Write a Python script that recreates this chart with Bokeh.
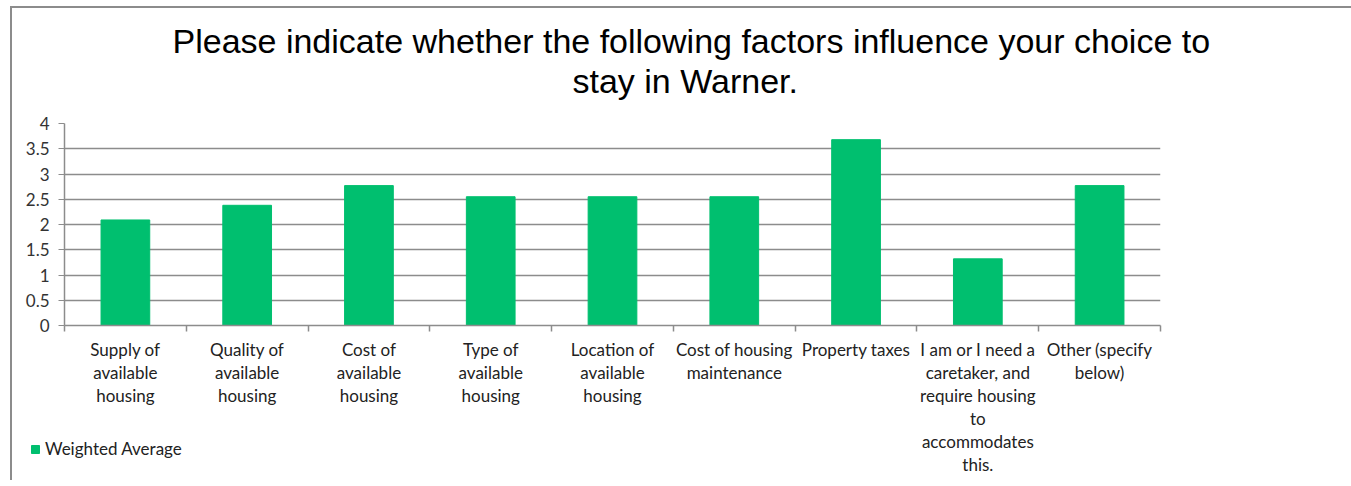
from bokeh.plotting import figure
from bokeh.models import Range1d, FixedTicker, Legend, LegendItem, ColumnDataSource, NumeralTickFormatter, Title
from bokeh.embed import file_html
from bokeh.resources import INLINE

title_lines = ["Please indicate whether the following factors influence your choice to",
               "stay in Warner."]
categories = [
    "Supply of\navailable\nhousing",
    "Quality of\navailable\nhousing",
    "Cost of\navailable\nhousing",
    "Type of\navailable\nhousing",
    "Location of\navailable\nhousing",
    "Cost of housing\nmaintenance",
    "Property taxes",
    "I am or I need a\ncaretaker, and\nrequire housing\nto\naccommodates\nthis.",
    "Other (specify\nbelow)",
]
values = [2.09, 2.38, 2.77, 2.55, 2.55, 2.55, 3.68, 1.32, 2.77]
y_ticks = [0, 0.5, 1, 1.5, 2, 2.5, 3, 3.5, 4]
series_name = "Weighted Average"

GREEN = "#00BF6F"
GRID = "#8c8c8c"
LABEL_FONT = "Lato"

n = len(categories)
positions = [i + 0.5 for i in range(n)]
boundaries = list(range(n + 1))

src = ColumnDataSource(dict(x=positions, top=values))

p = figure(frame_width=1096, frame_height=202, title=None,
           output_backend="svg", toolbar_location=None,
           x_range=Range1d(0, n), y_range=Range1d(0, 4),
           min_border_left=52, min_border_top=115, min_border_right=180, min_border_bottom=155)
p.styles = {"margin-left": "10px", "margin-top": "6px",
            "border-left": "2px solid #8c8c8c", "border-top": "2px solid #8c8c8c"}
p.outline_line_color = None
p.background_fill_color = "white"

r = p.vbar(x="x", top="top", width=0.4, bottom=0, source=src,
           fill_color=GREEN, line_color=GREEN)

# title: two centred lines (second line added first => closest to the plot)
title_offsets = [108, 508]
title_standoffs = [-46, 47]
for line, off, so in reversed(list(zip(title_lines, title_offsets, title_standoffs))):
    p.add_layout(Title(text=line, align="left", offset=off,
                       text_font="Liberation Sans", text_font_size="34px",
                       text_font_style="normal", text_color="black",
                       standoff=so), "above")

# axes
p.xgrid.grid_line_color = None
p.ygrid.ticker = FixedTicker(ticks=y_ticks)
p.ygrid.grid_line_color = GRID
p.ygrid.grid_line_width = 1.5

p.yaxis.ticker = FixedTicker(ticks=y_ticks)
p.yaxis.formatter = NumeralTickFormatter(format="0.[0]")
p.yaxis.axis_line_color = GRID
p.yaxis.axis_line_width = 1.5
p.yaxis.major_tick_line_color = GRID
p.yaxis.major_tick_out = 6
p.yaxis.major_tick_in = 0
p.yaxis.minor_tick_line_color = None
p.yaxis.major_label_text_font = LABEL_FONT
p.yaxis.major_label_text_font_size = "17px"
p.yaxis.major_label_text_color = "#333333"
p.yaxis.major_label_standoff = 9

p.xaxis.ticker = FixedTicker(ticks=positions, minor_ticks=boundaries)
p.xaxis.major_label_overrides = {pos: lab for pos, lab in zip(positions, categories)}
p.xaxis.axis_line_color = GRID
p.xaxis.axis_line_width = 1.5
p.xaxis.major_tick_line_color = None
p.xaxis.minor_tick_line_color = GRID
p.xaxis.minor_tick_line_width = 1.5
p.xaxis.minor_tick_out = 6
p.xaxis.minor_tick_in = 0
p.xaxis.major_label_text_font = LABEL_FONT
p.xaxis.major_label_text_font_size = "17px"
p.xaxis.major_label_text_color = "#222222"
p.xaxis.major_label_text_line_height = 1.10
p.xaxis.major_label_standoff = 7

legend = Legend(items=[LegendItem(label=series_name, renderers=[r])],
                location=(-1130, -134), orientation="vertical",
                glyph_width=10, glyph_height=10, label_standoff=5,
                padding=0, margin=0, border_line_color=None,
                background_fill_alpha=0,
                label_text_font=LABEL_FONT, label_text_font_size="17px",
                label_text_color="#222222")
p.add_layout(legend, "right")

open("out.html", "w").write(file_html(p, INLINE))
